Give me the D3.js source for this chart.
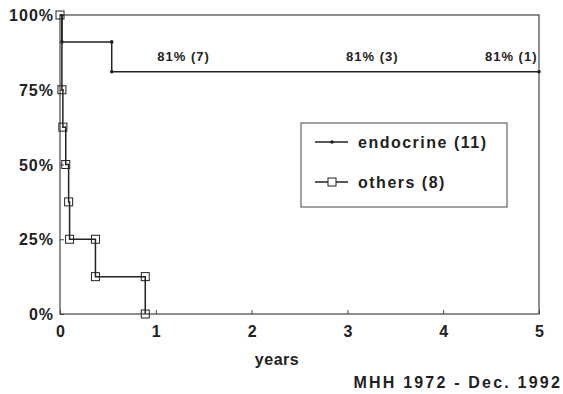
<!DOCTYPE html>
<html>
<head>
<meta charset="utf-8">
<script src="https://cdn.jsdelivr.net/npm/d3@7"></script>
<style>
  body { margin: 0; background: #fff; }
  text { font-family: "Liberation Sans", Arial, sans-serif; font-weight: bold; fill: #222; }
</style>
</head>
<body>
<script>
const width = 563, height = 394;
const margin = {top: 15, right: 24, bottom: 80, left: 60};

// Kaplan-Meier step curves: [years, survival %]
const endocrine = [[0, 100], [0.02, 100], [0.02, 91], [0.54, 91], [0.54, 81], [5, 81]];
const endocrineDots = [[0.02, 91], [0.54, 91], [0.54, 81], [5, 81]];
const others = [[0, 100], [0.02, 100], [0.02, 75], [0.03, 75], [0.03, 62.5], [0.06, 62.5],
  [0.06, 50], [0.09, 50], [0.09, 37.5], [0.1, 37.5], [0.1, 25], [0.37, 25], [0.37, 12.5],
  [0.89, 12.5], [0.89, 0]];
const othersSquares = [[0, 100], [0.02, 75], [0.03, 62.5], [0.06, 50], [0.09, 37.5],
  [0.1, 25], [0.37, 25], [0.37, 12.5], [0.89, 12.5], [0.89, 0]];

const notes = [{x: 1.29, y: 84.5, label: "81% (7)"}, {x: 3.26, y: 84.5, label: "81% (3)"}, {x: 4.71, y: 84.5, label: "81% (1)"}];
const xTicks = [0, 1, 2, 3, 4, 5];
const yTicks = [0, 25, 50, 75, 100];
const legendItems = ["endocrine (11)", "others (8)"];

const svg = d3.select("body").append("svg")
    .attr("width", width)
    .attr("height", height);

const x = d3.scaleLinear().domain([0, 5]).range([margin.left, width - margin.right]);
const y = d3.scaleLinear().domain([0, 100]).range([height - margin.bottom, margin.top]);

// frame
svg.append("rect")
    .attr("x", x(0)).attr("y", y(100))
    .attr("width", x(5) - x(0)).attr("height", y(0) - y(100))
    .attr("fill", "none").attr("stroke", "#444").attr("stroke-width", 1.2);

// x axis
const xAxis = svg.append("g")
    .attr("transform", `translate(0,${y(0)})`)
    .call(d3.axisBottom(x).tickValues(xTicks).tickSize(-4).tickPadding(12).tickFormat(d3.format("d")));
xAxis.select(".domain").remove();
xAxis.selectAll("line").attr("stroke", "#444");
xAxis.selectAll("text").style("font-size", "16px");

// y axis
const yAxis = svg.append("g")
    .attr("transform", `translate(${x(0)},0)`)
    .call(d3.axisLeft(y).tickValues(yTicks).tickSize(-4).tickPadding(6).tickFormat(d => d + "%"));
yAxis.select(".domain").remove();
yAxis.selectAll("line").attr("stroke", "#444");
yAxis.selectAll("text").style("font-size", "16px").style("letter-spacing", "1px").attr("dy", "0.35em");

const line = d3.line().x(d => x(d[0])).y(d => y(d[1]));

svg.append("path").datum(endocrine)
    .attr("d", line).attr("fill", "none").attr("stroke", "#222").attr("stroke-width", 1.5);

svg.selectAll(".dot").data(endocrineDots).enter().append("circle")
    .attr("cx", d => x(d[0])).attr("cy", d => y(d[1]))
    .attr("r", 1.8).attr("fill", "#222");

svg.append("path").datum(others)
    .attr("d", line).attr("fill", "none").attr("stroke", "#222").attr("stroke-width", 1.5);

svg.selectAll(".sq").data(othersSquares).enter().append("rect")
    .attr("x", d => x(d[0]) - 4).attr("y", d => y(d[1]) - 4)
    .attr("width", 8).attr("height", 8)
    .attr("fill", "none").attr("stroke", "#222").attr("stroke-width", 1);

// annotations
svg.selectAll(".note").data(notes).enter().append("text")
    .attr("x", d => x(d.x)).attr("y", d => y(d.y))
    .attr("text-anchor", "middle")
    .style("font-size", "13px")
    .style("letter-spacing", "1px")
    .text(d => d.label);

// legend
const legend = svg.append("g").attr("transform", "translate(301,123)");
legend.append("rect")
    .attr("width", 206).attr("height", 84)
    .attr("fill", "#fff").attr("stroke", "#444").attr("stroke-width", 1);

legendItems.forEach((name, i) => {
    const ly = 19 + i * 40;
    legend.append("line")
        .attr("x1", 14).attr("x2", 47).attr("y1", ly).attr("y2", ly)
        .attr("stroke", "#222").attr("stroke-width", 1.3);
    if (i === 0) {
        legend.append("circle").attr("cx", 31).attr("cy", ly).attr("r", 1.8).attr("fill", "#222");
    } else {
        legend.append("rect").attr("x", 27).attr("y", ly - 4).attr("width", 8).attr("height", 8)
            .attr("fill", "#fff").attr("stroke", "#222");
    }
    legend.append("text")
        .attr("x", 57).attr("y", ly).attr("dy", "0.35em")
        .style("font-size", "16px")
        .style("letter-spacing", "1.5px")
        .text(name);
});

// axis title and source
svg.append("text")
    .attr("x", 277).attr("y", 365)
    .attr("text-anchor", "middle")
    .style("font-size", "16px")
    .style("letter-spacing", "0.5px")
    .text("years");

svg.append("text")
    .attr("x", 562).attr("y", 388)
    .attr("text-anchor", "end")
    .style("font-size", "16px")
    .style("letter-spacing", "2.2px")
    .text("MHH 1972 - Dec. 1992");
</script>
</body>
</html>
